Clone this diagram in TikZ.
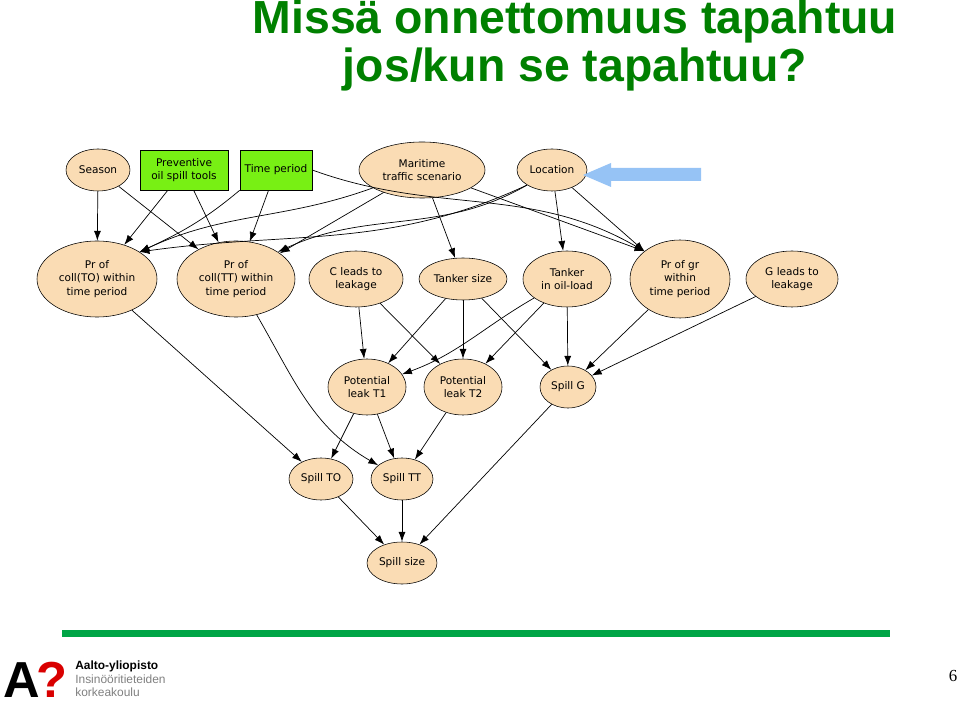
\documentclass[tikz,border=0pt]{standalone}
\usepackage{fontspec}
\setmainfont{Liberation Serif}
\newfontfamily\headfont{Liberation Sans}
\newfontfamily\nodefont{DejaVu Sans}
\usetikzlibrary{shapes.geometric,arrows.meta}
\definecolor{nodefill}{RGB}{250,220,180}
\definecolor{boxfill}{RGB}{120,240,20}
\definecolor{titlegreen}{RGB}{0,128,0}
\definecolor{barline}{RGB}{0,165,70}
\definecolor{pointer}{RGB}{150,195,245}
\def\px{0.025cm}
\tikzset{
  var/.style={ellipse, draw, fill=nodefill, font=\nodefont\fontsize{7.5}{9.5}\selectfont, align=center, inner sep=0pt},
  tool/.style={rectangle, draw, fill=boxfill, font=\nodefont\fontsize{7.5}{9.5}\selectfont, align=center, inner sep=0pt},
  size/.style 2 args={minimum width=#1*\px, minimum height=#2*\px},
  link/.style={-{Latex[length=7pt,width=5pt]}, line width=0.5pt}
}
\begin{document}
\begin{tikzpicture}[x=0.025cm,y=-0.025cm]
  \useasboundingbox (0,0) rectangle (960,701);
  % title
  \node[font=\headfont\bfseries\fontsize{33}{33}\selectfont, text=titlegreen] (title1) at (575,22) {Missä onnettomuus tapahtuu};
  \node[font=\headfont\bfseries\fontsize{33}{33}\selectfont, text=titlegreen] (title2) at (575,70) {jos/kun se tapahtuu?};
  % top row
  \node[var, size={64}{42}] (season) at (98,170) {Season};
  \node[tool, size={88}{40}] (prev) at (184,170) {Preventive\\oil spill tools};
  \node[tool, size={72}{40}] (time) at (276,170) {Time period};
  \node[var, size={126}{56}] (marit) at (422,170) {Maritime\\traffic scenario};
  \node[var, size={70}{42}] (loc) at (552,170) {Location};
  % second row
  \node[var, size={120}{76}] (prto) at (97,279) {Pr of\\coll(TO) within\\time period};
  \node[var, size={118}{76}] (prtt) at (236,279) {Pr of\\coll(TT) within\\time period};
  \node[var, size={94}{56}] (cleak) at (356,279) {C leads to\\leakage};
  \node[var, size={88}{42}] (tsize) at (463,279) {Tanker size};
  \node[var, size={88}{56}] (toil) at (567,279) {Tanker\\in oil-load};
  \node[var, size={100}{78}] (prgr) at (680,279) {Pr of gr\\within\\time period};
  \node[var, size={92}{56}] (gleak) at (792,279) {G leads to\\leakage};
  % third row
  \node[var, size={78}{56}] (pt1) at (367,387) {Potential\\leak T1};
  \node[var, size={78}{56}] (pt2) at (463,387) {Potential\\leak T2};
  \node[var, size={56}{42}] (spillg) at (568,387) {Spill G};
  \node[var, size={64}{42}] (spillto) at (321,479) {Spill TO};
  \node[var, size={62}{42}] (spilltt) at (402,479) {Spill TT};
  \node[var, size={70}{42}] (spillsize) at (402,563) {Spill size};
  % links
  \draw[link] (season) -- (prto);
  \draw[link] (season) -- (prtt);
  \draw[link] (prev) -- (prto);
  \draw[link] (prev) -- (prtt);
  \draw[link] (time.south west) to[out=-140,in=25] (prto.north east);
  \draw[link] (time) -- (prtt);
  \draw[link] (time.east) to[out=-20,in=150] (prgr.north west);
  \draw[link] (marit) to[out=-160,in=25] (prto.north east);
  \draw[link] (marit) -- (prtt);
  \draw[link] (marit) -- (tsize);
  \draw[link] (marit) -- (prgr.north west);
  \draw[link] (loc.south west) to[out=-155,in=8] (prto.north east);
  \draw[link] (loc.south west) to[out=-150,in=25] (prtt.north east);
  \draw[link] (loc) -- (toil);
  \draw[link] (loc) -- (prgr.north west);
  \draw[link] (cleak) -- (pt1);
  \draw[link] (cleak) -- (pt2);
  \draw[link] (tsize) -- (pt1);
  \draw[link] (tsize) -- (pt2);
  \draw[link] (tsize) -- (spillg);
  \draw[link] (toil) to[out=-150,in=20] (pt1);
  \draw[link] (toil) -- (pt2);
  \draw[link] (toil) -- (spillg);
  \draw[link] (prgr) -- (spillg);
  \draw[link] (gleak) -- (spillg);
  \draw[link] (prto) -- (spillto);
  \draw[link] (prtt) to[out=-60,in=150] (spilltt);
  \draw[link] (pt1) -- (spillto);
  \draw[link] (pt1) -- (spilltt);
  \draw[link] (pt2) -- (spilltt);
  \draw[link] (spillto) -- (spillsize);
  \draw[link] (spilltt) -- (spillsize);
  \draw[link] (spillg) -- (spillsize);
  % pointer arrow
  \coordinate (tip) at (583,175);
  \fill[pointer] (tip) -- (611,163) -- (611,168) -- (701,168) -- (701,181) -- (611,181) -- (611,187) -- cycle;
  % footer
  \fill[barline] (62,630) rectangle (890,637);
  \node[font=\headfont\bfseries\fontsize{36}{36}\selectfont, anchor=west, inner sep=0pt] (logoa) at (3,680) {A};
  \node[font=\headfont\bfseries\fontsize{36}{36}\selectfont, text=red!85!black, anchor=west, inner sep=0pt] (logoq) at (36,680) {?};
  \node[font=\headfont\bfseries\fontsize{8.5}{9}\selectfont, anchor=west, inner sep=0pt] (aalto) at (75,666) {Aalto-yliopisto};
  \node[font=\headfont\fontsize{8.5}{9}\selectfont, text=gray, anchor=west, inner sep=0pt] (school1) at (75,679) {Insinööritieteiden};
  \node[font=\headfont\fontsize{8.5}{9}\selectfont, text=gray, anchor=west, inner sep=0pt] (school2) at (75,692) {korkeakoulu};
  \node[font=\fontsize{12}{12}\selectfont] (page) at (953,676) {6};
\end{tikzpicture}
\end{document}
